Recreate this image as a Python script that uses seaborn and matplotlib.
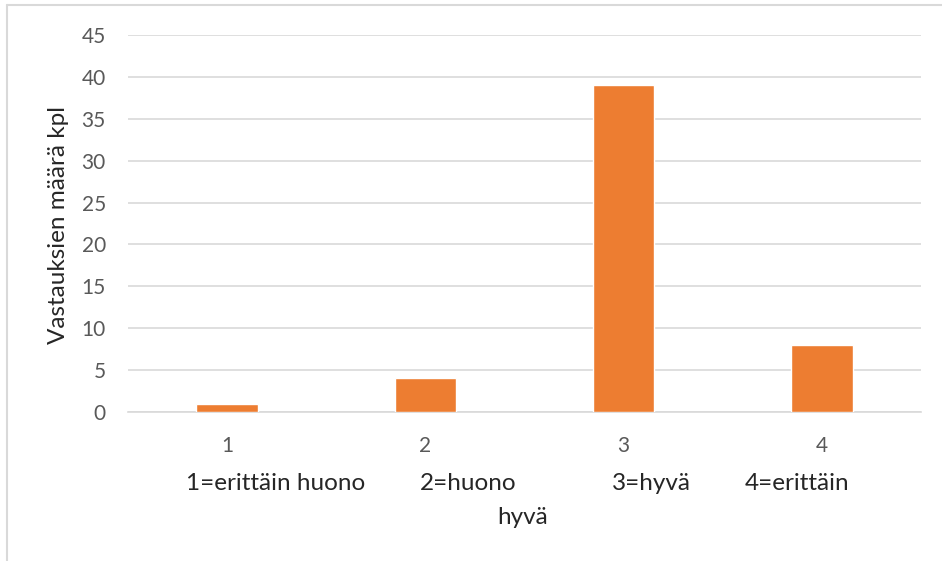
import matplotlib
matplotlib.use("Agg")
import matplotlib.pyplot as plt
import seaborn as sns
import pandas as pd
from matplotlib.lines import Line2D

# Survey answers per rating
categories = ["1", "2", "3", "4"]
counts = [1, 4, 39, 8]
y_ticks = [0, 5, 10, 15, 20, 25, 30, 35, 40, 45]
y_label = "Vastauksien määrä kpl"

sns.set_theme(style="white")
plt.rcParams["font.family"] = ["Lato", "DejaVu Sans"]

df = pd.DataFrame({"luokka": categories, "maara": counts})

fig = plt.figure(figsize=(9.42, 5.61), dpi=100)
ax = fig.add_axes([128 / 942, 1 - 412 / 561, (921 - 128) / 942, (412 - 35) / 561])

sns.barplot(data=df, x="luokka", y="maara", color="#ED7D31", width=0.31,
            saturation=1, ax=ax, zorder=3)

ax.set_ylim(0, 45)
ax.set_xlim(-0.5, 3.5)
ax.set_yticks(y_ticks)
ax.yaxis.grid(True, color="#d9d9d9", linewidth=1.2, zorder=0)
ax.xaxis.grid(False)
for s in ["top", "right", "left"]:
    ax.spines[s].set_visible(False)
ax.spines["bottom"].set_color("#d9d9d9")
ax.spines["bottom"].set_linewidth(1.2)
ax.tick_params(axis="both", length=0, labelsize=15, colors="#595959")
ax.tick_params(axis="x", pad=17)
ax.tick_params(axis="y", pad=16)
ax.set_xlabel("")
ax.set_ylabel(y_label, fontsize=17.5, color="#262626")
ax.yaxis.set_label_coords((69 - 128) / 793, (412 - 225) / 377)

# explanation of the rating scale under the axis
label_kw = dict(va="center", fontsize=17.5, color="#262626")
fig.text(276 / 942, 1 - 484 / 561, "1=erittäin huono", ha="center", **label_kw)
fig.text(420 / 942, 1 - 484 / 561, "2=huono", ha="left", **label_kw)
fig.text(612 / 942, 1 - 484 / 561, "3=hyvä", ha="left", **label_kw)
fig.text(745 / 942, 1 - 484 / 561, "4=erittäin", ha="left", **label_kw)
fig.text(497 / 942, 1 - 517 / 561, "hyvä", ha="left", **label_kw)

# outer chart frame (left and top edges)
fig.add_artist(Line2D([7 / 942, 7 / 942], [0, 1 - 5 / 561], transform=fig.transFigure,
                      color="#d9d9d9", linewidth=1.5))
fig.add_artist(Line2D([7 / 942, 1], [1 - 5 / 561, 1 - 5 / 561], transform=fig.transFigure,
                      color="#d9d9d9", linewidth=1.5))

fig.savefig("out.png", dpi=100)
